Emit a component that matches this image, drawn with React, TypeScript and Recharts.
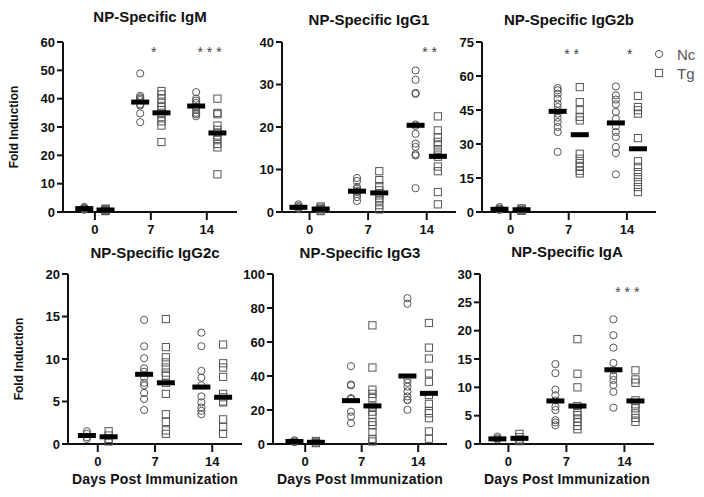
import React from 'react';
import { ScatterChart, Scatter, XAxis, YAxis } from 'recharts';

const days = ['0', '7', '14'];

// values per day group (0, 7, 14)
const igmNc = [[1.8, 1.4, 1.2, 1.0, 0.8], [48.9, 41, 40.5, 40, 39.5, 38, 37.6, 34.8, 31.7], [42.3, 40, 39.3, 38.5, 37, 36, 35, 34.5, 33.8]];
const igmTg = [[1.2, 0.9, 0.7, 0.5, 0.3], [42.7, 41.5, 40, 38.5, 37, 36, 35, 33.5, 32, 30.5, 24.7], [40, 35, 34.5, 30.5, 29, 28, 27, 25.8, 24, 22.8, 13.3]];
const igmNcMean = [1.2, 38.8, 37.4];
const igmTgMean = [0.7, 35, 27.9];

const igg1Nc = [[1.8, 1.4, 1.1, 0.9, 0.7], [8, 7.3, 5.9, 5.5, 5, 4.7, 4.2, 3.5, 2.6], [33.3, 31.1, 28, 27.8, 20.6, 20.3, 18.4, 16.1, 15.3, 13.6, 13.3, 5.6]];
const igg1Tg = [[1.3, 1.0, 0.7, 0.4, 0.2], [9.6, 7.5, 6.1, 5.1, 4.4, 3.9, 3.2, 2.7, 1.6, 0.6], [22.5, 19.2, 17.6, 16.5, 15.7, 14.5, 13.5, 13, 10.7, 9.6, 4.7, 1.8]];
const igg1NcMean = [1.1, 4.9, 20.4];
const igg1TgMean = [0.7, 4.5, 13.1];

const igg2bNc = [[2.2, 1.6, 1.2, 0.9], [54.7, 53.7, 52.2, 50, 47.8, 46.3, 44.5, 43.4, 41.6, 39.7, 37.5, 35.3, 26.5], [55.4, 51.5, 49.6, 47.5, 44.1, 41.2, 37.8, 35.3, 33.1, 28.7, 26, 16.6]];
const igg2bTg = [[1.6, 1.1, 0.8, 0.5], [55.1, 48.5, 44.9, 42, 40.4, 25.7, 23.5, 21.6, 19.9, 18.2, 17], [51.2, 46.3, 44.9, 43.4, 32.6, 22.4, 19.9, 17.6, 15.4, 13.2, 11, 8.8]];
const igg2bNcMean = [1.2, 44.4, 39.3];
const igg2bTgMean = [1.0, 34.1, 27.9];

const igg2cNc = [[1.5, 1.2, 0.8, 0.6], [14.6, 11.5, 10.1, 8.9, 8.5, 7.8, 7.2, 6.9, 6, 5.3, 4], [13.1, 11.5, 8.6, 7.8, 6.9, 5.6, 4.9, 4.3, 3.9, 3.5]];
const igg2cTg = [[1.5, 1.0, 0.6, 0.3], [14.7, 11.4, 10.2, 9.6, 9, 8.4, 8, 7.2, 5.9, 3.5, 2.6, 1.6, 1.2], [11.7, 9.5, 9, 7.9, 5.9, 5.5, 5, 4.9, 2.9, 2, 1.2]];
const igg2cNcMean = [1.0, 8.2, 6.7];
const igg2cTgMean = [0.85, 7.2, 5.5];

const igg3Nc = [[2.2, 1.5, 1.0], [45.8, 35, 34.5, 27, 26.5, 19, 16.2, 12.3], [85.8, 82.5, 38, 36, 33.7, 31, 28, 26, 25.9, 20.1]];
const igg3Tg = [[1.8, 1.0, 0.5], [69.8, 45, 32, 29.5, 27, 22, 19, 17, 13, 11, 7, 3, 1.5], [71.2, 56.7, 50.3, 41.5, 36.6, 28.8, 23.6, 19.5, 18.1, 15.2, 7.4, 3.1]];
const igg3NcMean = [1.5, 25.5, 40];
const igg3TgMean = [1.0, 22.4, 29.8];

const igaNc = [[1.3, 1.0, 0.8], [14.1, 12.5, 9.6, 8.6, 7.7, 6.6, 6, 4.2, 3.8, 3.3], [22, 19.2, 17, 14.3, 13, 12, 11.3, 10.4, 9.2, 6.4]];
const igaTg = [[1.8, 1.2, 0.8, 0.5], [18.5, 12.4, 10, 6.7, 5.6, 5.1, 4.5, 3.9, 3.2, 2.6], [13, 11.4, 10.8, 7.7, 7, 6.3, 5.4, 4.6, 3.9]];
const igaNcMean = [0.9, 7.6, 13.1];
const igaTgMean = [1.0, 6.7, 7.6];

const igmTicks = [0, 10, 20, 30, 40, 50, 60];
const igg1Ticks = [0, 10, 20, 30, 40];
const igg2bTicks = [0, 15, 30, 45, 60, 75];
const igg2cTicks = [0, 5, 10, 15, 20];
const igg3Ticks = [0, 20, 40, 60, 80, 100];
const igaTicks = [0, 5, 10, 15, 20, 25, 30];

// significance marks: group index, height, text
const igmSig = [{ g: 1, y: 56.5, t: '*' }, { g: 2, y: 56.5, t: '* * *' }];
const igg1Sig = [{ g: 2, y: 37.6, t: '* *' }];
const igg2bSig = [{ g: 1, y: 69.6, t: '* *' }, { g: 2, y: 69.6, t: '*' }];
const igaSig = [{ g: 2, y: 26.8, t: '* * *' }];

const OFF = 0.19;
const PLOT_W = 174;
const PLOT_H = 170;
const Y_W = 45;
const FONT = 'Arial, "Liberation Sans", sans-serif';

const toPoints = (groups: number[][], off: number) =>
  groups.flatMap((vals, i) => vals.map((v) => ({ x: i + off, y: v })));
const toMeans = (means: number[], off: number) => means.map((v, i) => ({ x: i + off, y: v }));

const Circle = (p: any) => <circle cx={p.cx} cy={p.cy} r={3.6} fill="none" stroke="#555" strokeWidth={1} />;
const Square = (p: any) => <rect x={p.cx - 3.6} y={p.cy - 3.6} width={7.2} height={7.2} fill="none" stroke="#555" strokeWidth={1} />;
const Bar = (p: any) => <rect x={p.cx - 9} y={p.cy - 2.5} width={18} height={5} fill="#000" />;
const Star = (p: any) => (
  <text x={p.cx} y={p.cy} textAnchor="middle" dominantBaseline="central" fontSize={14} fill="#444" fontFamily={FONT}>
    {p.payload.t}
  </text>
);

function Panel(props: any) {
  const { left, top, title, nc, tg, ncMean, tgMean, ticks, sig, dom, yLabel, xLabel, titleDy } = props;
  const max = ticks[ticks.length - 1];
  const sigData = (sig || []).map((s: any) => ({ x: s.g + 0.05, y: s.y, t: s.t }));
  const chartLeft = left - Y_W;
  const chartTop = top - 10;
  return (
    <>
      <div style={{ position: 'absolute', left: left - 20, width: PLOT_W + 40, top: top - 34 + (titleDy || 0), textAlign: 'center', fontFamily: FONT, fontWeight: 'bold', fontSize: 15, lineHeight: '18px', color: '#111', whiteSpace: 'nowrap' }}>
        {title}
      </div>
      {yLabel && (
        <div style={{ position: 'absolute', left: left - 49 - 60, top: top + PLOT_H / 2 - 8, width: 120, textAlign: 'center', transform: 'rotate(-90deg)', fontFamily: FONT, fontWeight: 'bold', fontSize: 12, lineHeight: '16px', color: '#111', whiteSpace: 'nowrap' }}>
          Fold Induction
        </div>
      )}
      {xLabel && (
        <div style={{ position: 'absolute', left: left - 20, width: PLOT_W + 40, top: top + PLOT_H + 26, textAlign: 'center', fontFamily: FONT, fontWeight: 'bold', fontSize: 14, lineHeight: '18px', color: '#111', whiteSpace: 'nowrap', letterSpacing: 0.2 }}>
          Days Post Immunization
        </div>
      )}
      <div style={{ position: 'absolute', left: chartLeft, top: chartTop }}>
        <ScatterChart width={Y_W + PLOT_W + 10} height={10 + PLOT_H + 30} margin={{ top: 10, right: 10, bottom: 0, left: 0 }}>
          <XAxis
            type="number"
            dataKey="x"
            domain={dom}
            ticks={[0, 1, 2]}
            tickFormatter={(v: number) => days[v]}
            allowDataOverflow
            height={30}
            axisLine={{ stroke: '#111', strokeWidth: 2 }}
            tickLine={{ stroke: '#111', strokeWidth: 2 }}
            tickSize={8}
            tickMargin={5}
            tick={{ fill: '#111', fontSize: 13, fontWeight: 'bold', fontFamily: FONT }}
          />
          <YAxis
            type="number"
            dataKey="y"
            domain={[0, max]}
            ticks={ticks}
            interval={0}
            width={Y_W}
            axisLine={{ stroke: '#111', strokeWidth: 2 }}
            tickLine={{ stroke: '#111', strokeWidth: 2 }}
            tickSize={6}
            tick={{ fill: '#111', fontSize: 13, fontWeight: 'bold', fontFamily: FONT }}
          />
          <Scatter data={toPoints(nc, -OFF)} shape={Circle} isAnimationActive={false} />
          <Scatter data={toPoints(tg, OFF)} shape={Square} isAnimationActive={false} />
          <Scatter data={toMeans(ncMean, -OFF)} shape={Bar} isAnimationActive={false} />
          <Scatter data={toMeans(tgMean, OFF)} shape={Bar} isAnimationActive={false} />
          {sigData.length > 0 && <Scatter data={sigData} shape={Star} isAnimationActive={false} />}
        </ScatterChart>
      </div>
    </>
  );
}

export default function App() {
  return (
    <div style={{ position: 'absolute', left: 0, top: 0, width: 704, height: 497, background: '#fff', overflow: 'hidden' }}>
      <Panel left={63} top={42} title="NP-Specific IgM" nc={igmNc} tg={igmTg} ncMean={igmNcMean} tgMean={igmTgMean} ticks={igmTicks} sig={igmSig} dom={[-0.57, 2.54]} yLabel titleDy={0} />
      <Panel left={282} top={42} title="NP-Specific IgG1" nc={igg1Nc} tg={igg1Tg} ncMean={igg1NcMean} tgMean={igg1TgMean} ticks={igg1Ticks} sig={igg1Sig} dom={[-0.47, 2.5]} titleDy={3} />
      <Panel left={482} top={42} title="NP-Specific IgG2b" nc={igg2bNc} tg={igg2bTg} ncMean={igg2bNcMean} tgMean={igg2bTgMean} ticks={igg2bTicks} sig={igg2bSig} dom={[-0.49, 2.5]} titleDy={3} />
      <Panel left={68} top={274} title="NP-Specific IgG2c" nc={igg2cNc} tg={igg2cTg} ncMean={igg2cNcMean} tgMean={igg2cTgMean} ticks={igg2cTicks} dom={[-0.52, 2.52]} yLabel xLabel titleDy={4} />
      <Panel left={273} top={274} title="NP-Specific IgG3" nc={igg3Nc} tg={igg3Tg} ncMean={igg3NcMean} tgMean={igg3TgMean} ticks={igg3Ticks} dom={[-0.57, 2.51]} xLabel titleDy={4} />
      <Panel left={480} top={274} title="NP-Specific IgA" nc={igaNc} tg={igaTg} ncMean={igaNcMean} tgMean={igaTgMean} ticks={igaTicks} sig={igaSig} dom={[-0.49, 2.51]} xLabel titleDy={3} />
      <svg style={{ position: 'absolute', left: 650, top: 44 }} width={20} height={40}>
        <circle cx={9} cy={10} r={3.6} fill="none" stroke="#555" strokeWidth={1} />
        <rect x={5.4} y={25.4} width={7.2} height={7.2} fill="none" stroke="#555" strokeWidth={1} />
      </svg>
      <div style={{ position: 'absolute', left: 677, top: 45, fontFamily: FONT, fontSize: 15, color: '#555', lineHeight: '19px' }}>
        <div>Nc</div>
        <div>Tg</div>
      </div>
    </div>
  );
}
